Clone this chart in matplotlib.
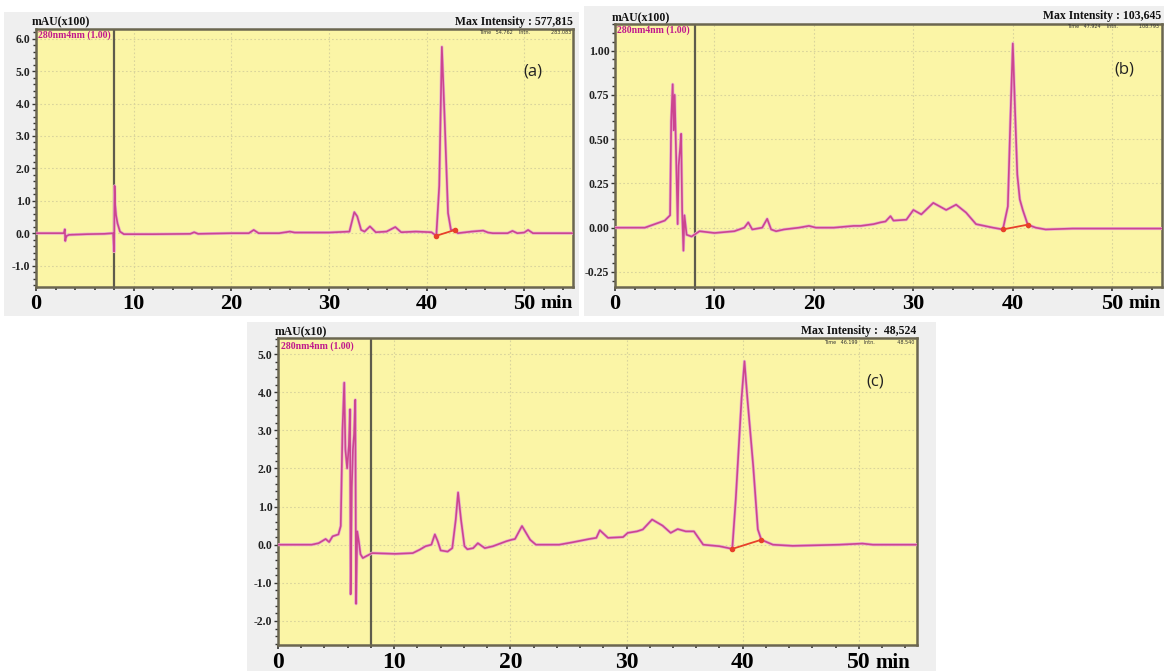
import matplotlib
matplotlib.use("Agg")
import matplotlib.pyplot as plt
from matplotlib.patches import Rectangle
from matplotlib.ticker import MultipleLocator, FixedLocator

# ---------------- data ----------------
# Panel (a): time (min), signal (mAU x100)
a_time = [0, 2.0, 2.85, 2.95, 3.0, 3.05, 3.15, 3.4, 5.2, 7.0, 7.9, 8.0, 8.05, 8.1, 8.2, 8.35,
          8.6, 9.0, 12, 15.8, 16.2, 16.6, 20, 21.8, 22.3, 22.8, 24.9, 26.0, 26.5, 28.4,
          30, 32.1, 32.6, 32.9, 33.3, 33.65, 34.2, 34.8, 35.9, 36.8, 37.4, 38.9, 40.5,
          41.0, 41.3, 41.57, 41.85, 42.2, 42.5, 42.9, 43.2, 44.6, 45.8, 46.3, 46.8, 48.3,
          48.8, 49.3, 50.0, 50.4, 50.9, 55]
a_signal = [0, 0, 0.0, 0.12, -0.24, -0.15, -0.08, -0.05, -0.03, -0.02, 0.0, -0.57, 1.46, 0.9, 0.55, 0.3,
            0.05, -0.03, -0.03, -0.02, 0.03, -0.02, 0.0, 0.0, 0.1, 0.0, 0.0, 0.05, 0.02, 0.02,
            0.02, 0.05, 0.65, 0.52, 0.1, 0.05, 0.21, 0.03, 0.05, 0.19, 0.03, 0.05, 0.03,
            -0.08, 1.46, 5.75, 3.54, 0.62, 0.1, 0.1, 0.0, 0.05, 0.08, 0.02, 0.0, 0.0,
            0.07, 0.0, 0.02, 0.1, 0.0, 0.0]
a_base_time = [41.0, 42.9]
a_base_signal = [-0.08, 0.1]

# Panel (b): time (min), signal (mAU x100)
b_time = [0, 3.0, 3.5, 4.5, 5.0, 5.54, 5.65, 5.8, 5.9, 6.0, 6.15, 6.3, 6.4, 6.55, 6.65, 6.75,
          6.88, 6.98, 7.2, 7.7, 8.5, 10, 12, 13.0, 13.4, 13.8, 14.8, 15.3, 15.7, 16.2, 17.0,
          18.5, 19.5, 20.2, 22, 24, 24.7, 26.0, 26.7, 27.2, 27.7, 28.0, 29.3, 30.0, 30.8,
          32.0, 33.3, 34.3, 35.3, 36.3, 38.0, 39.0, 39.5, 39.75, 40.0, 40.2, 40.45, 40.7,
          41.0, 41.5, 42.3, 43.3, 46, 50, 55]
b_signal = [0, 0, 0.01, 0.03, 0.04, 0.07, 0.6, 0.81, 0.55, 0.75, 0.4, 0.02, 0.35, 0.45, 0.53, 0.1,
            -0.13, 0.07, -0.04, -0.05, -0.02, -0.03, -0.02, 0.0, 0.03, -0.01, 0.0, 0.05, -0.01, -0.02, -0.01,
            0.0, 0.01, 0.0, 0.0, 0.01, 0.01, 0.02, 0.03, 0.035, 0.065, 0.04, 0.045, 0.10, 0.075,
            0.14, 0.10, 0.13, 0.085, 0.02, 0.0, -0.01, 0.12, 0.6, 1.04, 0.7, 0.3, 0.16,
            0.10, 0.017, 0.0, -0.01, -0.005, -0.005, -0.005]
b_base_time = [39.0, 41.5]
b_base_signal = [-0.01, 0.017]

# Panel (c): time (min), signal (mAU x10)
c_time = [0, 2.9, 3.5, 4.1, 4.4, 4.7, 5.2, 5.4, 5.55, 5.7, 5.8, 5.95, 6.1, 6.2, 6.25, 6.35,
          6.45, 6.55, 6.65, 6.72, 6.82, 6.95, 7.1, 7.3, 7.6, 8.1, 10.1, 11.6, 12.2, 12.7,
          13.2, 13.5, 13.75, 14.0, 14.6, 15.0, 15.3, 15.5, 15.75, 16.05, 16.3, 16.8, 17.2,
          17.8, 18.5, 19.65, 20.1, 20.4, 21.0, 21.7, 22.2, 24.2, 25.3, 26.8, 27.4, 27.7,
          28.4, 29.7, 30.1, 30.9, 31.4, 32.2, 33.1, 33.8, 34.4, 35.1, 35.8, 36.6, 38.0,
          39.1, 39.4, 39.9, 40.15, 40.4, 40.9, 41.3, 41.6, 42.6, 44.3, 48.3, 50.3, 51.2, 55]
c_signal = [0, 0, 0.04, 0.15, 0.07, 0.22, 0.27, 0.49, 3.0, 4.25, 2.5, 2.0, 2.6, 3.55, -1.3, 1.5,
            2.5, 2.9, 3.8, -1.55, 0.35, 0.1, -0.25, -0.35, -0.3, -0.22, -0.24, -0.22, -0.13, -0.04,
            0.0, 0.27, 0.09, -0.15, -0.18, -0.09, 0.66, 1.37, 0.66, -0.04, -0.12, -0.09, 0.04,
            -0.09, -0.04, 0.09, 0.13, 0.15, 0.49, 0.13, 0.0, 0.0, 0.06, 0.15, 0.18, 0.38,
            0.18, 0.2, 0.31, 0.35, 0.4, 0.66, 0.5, 0.31, 0.41, 0.35, 0.35, 0.0, -0.04,
            -0.11, 1.19, 3.84, 4.81, 3.84, 2.07, 0.4, 0.13, 0.0, -0.03, 0.0, 0.03, 0.0, 0.0]
c_base_time = [39.1, 41.6]
c_base_signal = [-0.11, 0.13]

x_ticks = [0, 10, 20, 30, 40, 50]
x_tick_labels = ["0", "10", "20", "30", "40", "50"]
a_yticks = [6.0, 5.0, 4.0, 3.0, 2.0, 1.0, 0.0, -1.0]
b_yticks = [1.00, 0.75, 0.50, 0.25, 0.00, -0.25]
c_yticks = [5.0, 4.0, 3.0, 2.0, 1.0, 0.0, -1.0, -2.0]

# ---------------- style ----------------
W, H = 1164, 671
YELLOW = "#fbf5a6"
FRAME = "#6b6650"
TRACE = "#cc4590"
TRACE_LIGHT = "#eab0cf"
BASE_RED = "#e8402a"
MAGENTA_TXT = "#c0178c"
SERIF = ["Liberation Serif", "DejaVu Serif"]

fig = plt.figure(figsize=(W / 100, H / 100), dpi=100)
fig.patch.set_facecolor("white")


def px_rect(x0, y0, x1, y1):
    return [x0 / W, 1 - y1 / H, (x1 - x0) / W, (y1 - y0) / H]


def fx(x):
    return x / W


def fy(y):
    return 1 - y / H


# light grey panels behind each chart
for (x0, y0, x1, y1) in [(4, 12, 579, 316), (584, 6, 1164, 316), (247, 322, 936, 671)]:
    fig.patches.append(Rectangle((x0 / W, 1 - y1 / H), (x1 - x0) / W, (y1 - y0) / H,
                                 transform=fig.transFigure, facecolor="#efefef",
                                 edgecolor="none", zorder=-10))


def make_panel(rect, t, s, bt, bs, ylim, yticks, yfmt, yminor, xsize, label, label_xy):
    ax = fig.add_axes(rect)
    ax.set_zorder(1)
    ax.set_facecolor(YELLOW)
    ax.set_xlim(0, 55)
    ax.set_ylim(*ylim)
    ax.grid(True, which="major", color="#d9d49c", linestyle=(0, (1.5, 2)), linewidth=0.8)
    ax.set_axisbelow(True)
    ax.axvline(8.0, color="#5e5b4c", linewidth=1.6, zorder=2)
    ax.plot(t, s, color=TRACE_LIGHT, linewidth=2.2, zorder=3)
    ax.plot(t, s, color=TRACE, linewidth=1.2, zorder=4)
    ax.plot(bt, bs, color=BASE_RED, linewidth=1.3, zorder=5)
    ax.plot(bt, bs, linestyle="none", marker="o", markersize=3, color=BASE_RED, zorder=6)
    for sp in ax.spines.values():
        sp.set_color(FRAME)
        sp.set_linewidth(1.8)
    ax.xaxis.set_major_locator(FixedLocator(x_ticks))
    ax.set_xticklabels(x_tick_labels)
    ax.xaxis.set_minor_locator(MultipleLocator(2))
    ax.yaxis.set_major_locator(FixedLocator(yticks))
    ax.set_yticklabels([yfmt % v for v in yticks])
    ax.yaxis.set_minor_locator(MultipleLocator(yminor))
    ax.tick_params(axis="both", which="both", direction="out", color="#333333")
    ax.tick_params(axis="x", which="major", length=3, width=1.2, pad=2)
    ax.tick_params(axis="x", which="minor", length=2, width=1.2)
    ax.tick_params(axis="y", which="major", length=3, width=1.0, pad=1)
    ax.tick_params(axis="y", which="minor", length=2, width=1.0)
    for lab in ax.get_xticklabels():
        lab.set_fontfamily(SERIF)
        lab.set_fontweight("bold")
        lab.set_fontsize(xsize)
    for lab in ax.get_yticklabels():
        lab.set_fontfamily(SERIF)
        lab.set_fontweight("bold")
        lab.set_fontsize(8.5)
        lab.set_color("#222222")
    ax.annotate("min", xy=(50, 0), xycoords=ax.get_xaxis_transform(),
                xytext=(xsize * 0.72, -6), textcoords="offset points",
                ha="left", va="top", fontfamily=SERIF, fontweight="bold",
                fontsize=xsize - 2, annotation_clip=False)
    fig.text(fx(label_xy[0]), fy(label_xy[1]), label, fontfamily="Open Sans",
             fontsize=12, ha="center", va="center", color="#222222", zorder=5)
    return ax


make_panel(px_rect(36, 29, 573, 287), a_time, a_signal, a_base_time, a_base_signal,
           (-1.66, 6.3), a_yticks, "%.1f", 0.2, 16, "(a)", (533, 71))
make_panel(px_rect(615, 24, 1162, 287), b_time, b_signal, b_base_time, b_base_signal,
           (-0.335, 1.15), b_yticks, "%.2f", 0.05, 16, "(b)", (1124, 70))
make_panel(px_rect(278, 338, 917, 645), c_time, c_signal, c_base_time, c_base_signal,
           (-2.63, 5.42), c_yticks, "%.1f", 0.2, 17, "(c)", (875, 382))

# header texts
headers = [
    (32, 22, "mAU(x100)", 38, 35, 573, 22, "Max Intensity : 577,815", 33,
     "Time   54.762    Intn.              283.083"),
    (612, 18, "mAU(x100)", 617, 30, 1161, 16, "Max Intensity : 103,645", 27,
     "Time   47.924    Intn.              108.793"),
    (275, 332, "mAU(x10)", 281, 346, 916, 331, "Max Intensity :  48,524", 343,
     "Time   46.199    Intn.               48.540"),
]
for (xu, yu, unit, xw, yw, xr, ym, mtxt, ys, stxt) in headers:
    fig.text(fx(xu), fy(yu), unit, fontfamily=SERIF, fontweight="bold", fontsize=8.5,
             ha="left", va="center", color="#111111", zorder=5)
    fig.text(fx(xw), fy(yw), "280nm4nm (1.00)", fontfamily=SERIF, fontweight="bold",
             fontsize=7, ha="left", va="center", color=MAGENTA_TXT, zorder=10)
    fig.text(fx(xr), fy(ym), mtxt, fontfamily=SERIF, fontweight="bold", fontsize=8.5,
             ha="right", va="center", color="#111111", zorder=5)
    fig.text(fx(xr - 2), fy(ys), stxt, fontfamily="DejaVu Sans", fontsize=3.5,
             ha="right", va="center", color="#333333", zorder=10)

fig.savefig("out.png", dpi=100)
